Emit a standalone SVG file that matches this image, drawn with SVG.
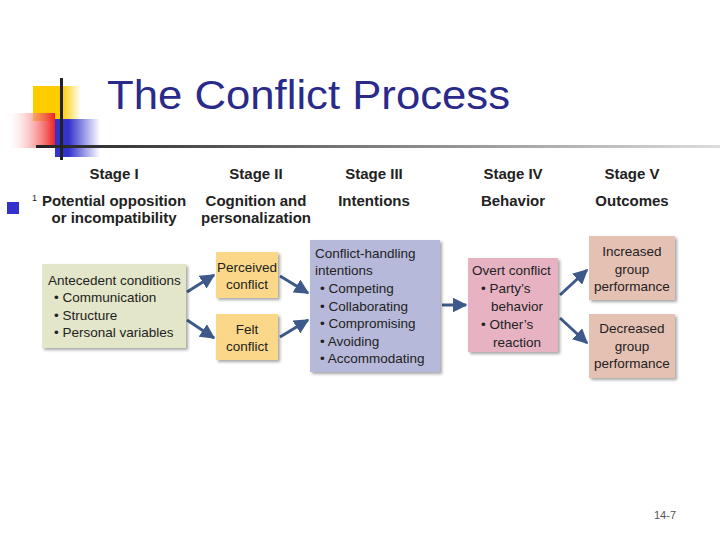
<svg xmlns="http://www.w3.org/2000/svg" width="720" height="540" viewBox="0 0 720 540">
<defs>
<linearGradient id="gl" x1="0" x2="1"><stop offset="0" stop-color="#222"/><stop offset="1" stop-color="#ddd"/></linearGradient>
<linearGradient id="gy" x1="0" x2="1"><stop offset="0.6" stop-color="#ffcc00"/><stop offset="1" stop-color="#fff"/></linearGradient>
<linearGradient id="gr" x1="1" x2="0"><stop offset="0" stop-color="#ee2222"/><stop offset="1" stop-color="#fff" stop-opacity="0.3"/></linearGradient>
<linearGradient id="gb" x1="0" x2="1"><stop offset="0.3" stop-color="#3333cc"/><stop offset="1" stop-color="#fff"/></linearGradient>
<marker id="ar" viewBox="0 0 10 10" refX="9" refY="5" markerWidth="5" markerHeight="5" orient="auto"><path d="M0,0L10,5L0,10z" fill="#3d5a8a"/></marker>
<filter id="sh"><feDropShadow dx="2" dy="2" stdDeviation="1.5" flood-opacity="0.35"/></filter>
</defs>
<style>
.h{font-family:"Liberation Sans",Arial,sans-serif;font-weight:bold;font-size:15px;fill:#222;text-anchor:middle}
.t{font-family:"Liberation Sans",Arial,sans-serif;font-size:13.5px;fill:#222}
.c{text-anchor:middle}
.e{stroke:#3d5a8a;stroke-width:3;fill:none;marker-end:url(#ar)}
</style>
<rect width="720" height="540" fill="#fff"/>
<rect x="33" y="86" width="48" height="35" fill="url(#gy)"/>
<rect x="55" y="119" width="45" height="38" fill="url(#gb)"/>
<rect x="10" y="113" width="45" height="35" fill="url(#gr)"/>
<rect x="36" y="145" width="684" height="3" fill="url(#gl)"/>
<rect x="60" y="78" width="3" height="82" fill="#222"/>
<text x="107" y="109" font-family="Liberation Sans,Arial,sans-serif" font-size="41" fill="#2a2a8a" textLength="403" lengthAdjust="spacingAndGlyphs">The Conflict Process</text>
<rect x="7" y="202" width="12" height="12" fill="#3333cc"/>
<text x="32" y="201" font-family="Liberation Sans,Arial,sans-serif" font-size="9" fill="#222">1</text>
<g id="stages">
<text class="h" x="114" y="179">Stage I</text><text class="h" x="114" y="206">Potential opposition</text><text class="h" x="114" y="223">or incompatibility</text>
<text class="h" x="256" y="179">Stage II</text><text class="h" x="256" y="206">Cognition and</text><text class="h" x="256" y="223">personalization</text>
<text class="h" x="374" y="179">Stage III</text><text class="h" x="374" y="206">Intentions</text>
<text class="h" x="513" y="179">Stage IV</text><text class="h" x="513" y="206">Behavior</text>
<text class="h" x="632" y="179">Stage V</text><text class="h" x="632" y="206">Outcomes</text>
</g>
<g id="edges">
<line class="e" x1="187" y1="292" x2="214" y2="275"/>
<line class="e" x1="187" y1="320" x2="214" y2="338"/>
<line class="e" x1="280" y1="276" x2="308" y2="293"/>
<line class="e" x1="280" y1="337" x2="308" y2="320"/>
<line class="e" x1="442" y1="305" x2="466" y2="305"/>
<line class="e" x1="560" y1="295" x2="587" y2="270"/>
<line class="e" x1="560" y1="318" x2="587" y2="343"/>
</g>
<g id="antecedent"><rect x="42" y="264" width="144" height="84" fill="#e3e6c8" filter="url(#sh)"/>
<text class="t" x="48" y="285">Antecedent conditions</text><text class="t" x="54" y="302">• Communication</text><text class="t" x="54" y="320">• Structure</text><text class="t" x="54" y="337">• Personal variables</text></g>
<g id="perceived"><rect x="216" y="252" width="62" height="46" fill="#fbd889" filter="url(#sh)"/>
<text class="t c" x="247" y="272">Perceived</text><text class="t c" x="247" y="289">conflict</text></g>
<g id="felt"><rect x="216" y="314" width="62" height="46" fill="#fbd889" filter="url(#sh)"/>
<text class="t c" x="247" y="334">Felt</text><text class="t c" x="247" y="351">conflict</text></g>
<g id="intentions"><rect x="310" y="240" width="130" height="132" fill="#b6b9d9" filter="url(#sh)"/>
<text class="t" x="315" y="258">Conflict-handling</text><text class="t" x="315" y="275">intentions</text>
<text class="t" x="320" y="293">• Competing</text><text class="t" x="320" y="311">• Collaborating</text><text class="t" x="320" y="328">• Compromising</text><text class="t" x="320" y="346">• Avoiding</text><text class="t" x="320" y="363">• Accommodating</text></g>
<g id="behavior"><rect x="468" y="258" width="90" height="94" fill="#e7b3c2" filter="url(#sh)"/>
<text class="t" x="472" y="275">Overt conflict</text><text class="t" x="481" y="293">• Party’s</text><text class="t c" x="517" y="311">behavior</text><text class="t" x="481" y="329">• Other’s</text><text class="t c" x="517" y="347">reaction</text></g>
<g id="increased"><rect x="589" y="236" width="86" height="64" fill="#e5c1b4" filter="url(#sh)"/>
<text class="t c" x="632" y="256">Increased</text><text class="t c" x="632" y="274">group</text><text class="t c" x="632" y="291">performance</text></g>
<g id="decreased"><rect x="589" y="314" width="86" height="64" fill="#e5c1b4" filter="url(#sh)"/>
<text class="t c" x="632" y="333">Decreased</text><text class="t c" x="632" y="351">group</text><text class="t c" x="632" y="368">performance</text></g>
<text x="665" y="519" font-family="Liberation Sans,Arial,sans-serif" font-size="11" fill="#555" text-anchor="middle">14-7</text>
</svg>
